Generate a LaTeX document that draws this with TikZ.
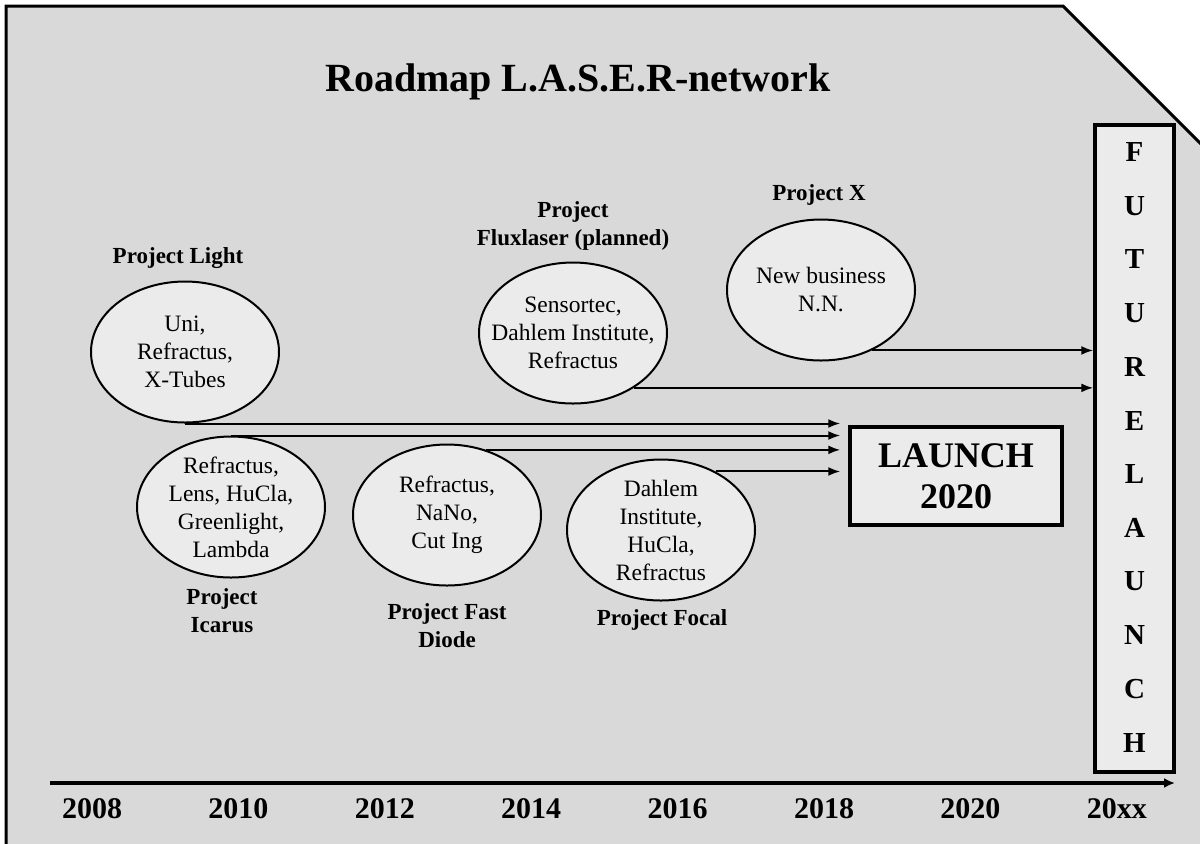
\documentclass[tikz,border=0pt]{standalone}
\usepackage{fontspec}
\setmainfont{Liberation Serif}
\usetikzlibrary{shapes.geometric}
\usetikzlibrary{arrows.meta}
\definecolor{bg}{RGB}{217, 217, 217}
\definecolor{cc}{RGB}{235, 235, 235}
\tikzset{
  partner/.style={ellipse, minimum width=94pt, minimum height=70.5pt, inner sep=-20pt, fill=cc, line width=1pt, draw=black, align=center, font=\fontsize{11.75}{14}\selectfont},
  project/.style={align=center, inner sep=0pt, font=\fontsize{11.5}{14}\selectfont\bfseries},
  year/.style={inner sep=0pt, font=\fontsize{15}{18}\selectfont\bfseries},
  letter/.style={inner sep=0pt, font=\fontsize{14.5}{17}\selectfont\bfseries},
  flow/.style={line width=1pt, -{Latex[length=6pt,width=4.5pt]}, shorten >=4pt},
}

\begin{document}
\begin{tikzpicture}[x=0.5pt, y=-0.5pt]
\useasboundingbox (0,0) rectangle (1200,843);
\clip (0,0) rectangle (1200,843);
\draw [line width=1.5pt, fill=bg] (6,6) -- (1063,6) -- (1210,153) -- (1210,860) -- (6,860) -- cycle;
\node (title) [inner sep=0pt, font=\fontsize{20}{24}\selectfont\bfseries] at (578,82) {Roadmap L.A.S.E.R-network};
% partners
\node (light) [partner] at (185,352) {Uni,\\Refractus,\\X-Tubes};
\node (icarus) [partner] at (231,507) {Refractus,\\Lens, HuCla,\\Greenlight,\\Lambda};
\node (diode) [partner] at (447,515) {Refractus,\\NaNo,\\Cut Ing};
\node (focal) [partner] at (661,530) {Dahlem\\Institute,\\HuCla,\\Refractus};
\node (flux) [partner] at (573,333) {Sensortec,\\Dahlem Institute,\\Refractus};
\node (projx) [partner] at (821,290) {New business\\N.N.};
% project names
\node (lightname) [project] at (178,258) {Project Light};
\node (icarusname) [project] at (222,611) {Project\\Icarus};
\node (diodename) [project] at (447,626) {Project Fast\\Diode};
\node (focalname) [project] at (662,620) {Project Focal};
\node (fluxname) [project] at (573,226) {Project\\Fluxlaser (planned)};
\node (projxname) [project] at (819,195) {Project X};
% goals
\node (launch) [rectangle, minimum width=106pt, minimum height=49pt, inner sep=0pt, fill=cc, line width=1.75pt, draw=black, align=center, font=\fontsize{18}{20.5}\selectfont\bfseries] at (956,476) {LAUNCH\\2020};
\node (future) [rectangle, minimum width=39.5pt, minimum height=323.5pt, inner sep=0pt, fill=cc, line width=1.75pt, draw=black] at (1134.5,448.5) {};
\foreach \l [count=\i] in {F,U,T,U,R,E,L,A,U,N,C,H}
  \node (letter\i) [letter] at (1134.5,{152+(\i-1)*53.7}) {\l};
\draw [flow] (light.south) -- (light.south -| launch.west);
\draw [flow] (icarus.north) -- (icarus.north -| launch.west);
\draw [flow] (diode.59) -- (diode.59 -| launch.west);
\draw [flow] (focal.47) -- (focal.47 -| launch.west);
\draw [flow, shorten >=0pt] (flux.-42) -- (flux.-42 -| future.west);
\draw [flow, shorten >=0pt] (projx.-50) -- (projx.-50 -| future.west);
% time axis
\coordinate (axisstart) at (50,783);
\coordinate (axisend) at (1175,783);
\draw [line width=1.7pt, -{Latex[length=5.5pt,width=5pt]}] (axisstart) -- (axisend);
\foreach \y [count=\i] in {2008,2010,2012,2014,2016,2018,2020,20xx}
  \node (year\i) [year] at ({92+(\i-1)*146.4},809) {\y};
\end{tikzpicture}
\end{document}
